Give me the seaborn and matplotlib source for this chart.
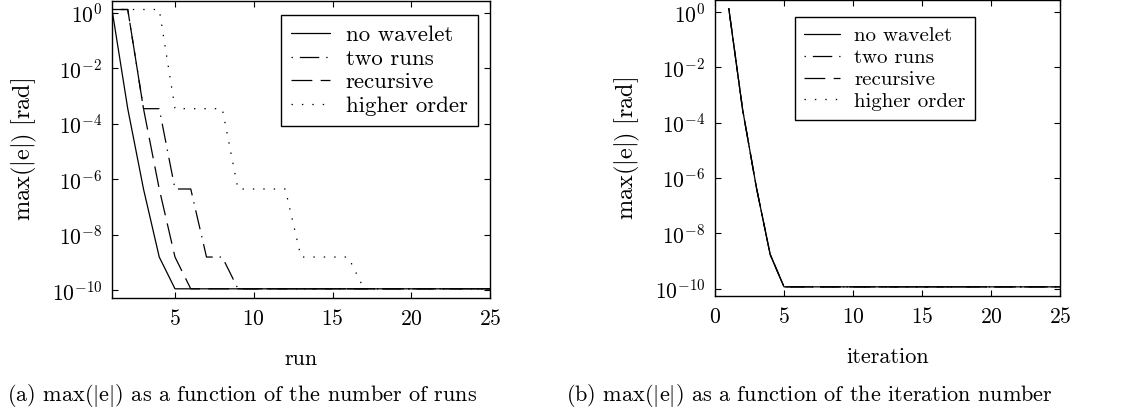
import numpy as np
import pandas as pd
import seaborn as sns
import matplotlib.pyplot as plt
from matplotlib.lines import Line2D
from matplotlib.ticker import FixedLocator, NullLocator, LogFormatterSciNotation

# ---- data -------------------------------------------------------------
runs = list(range(1, 26))
no_wavelet = [1.3, 3.5e-4, 4.5e-7, 1.6e-9] + [1.15e-10] * 21
two_runs = [1.3, 1.3, 3.5e-4, 3.5e-4, 4.5e-7, 4.5e-7, 1.6e-9, 1.6e-9] + [1.15e-10] * 17
recursive = [1.3, 1.3, 3.5e-4, 4.5e-7, 1.6e-9] + [1.15e-10] * 20
higher_order = [1.3] * 4 + [3.5e-4] * 4 + [4.5e-7] * 4 + [1.6e-9] * 4 + [1.15e-10] * 9

iterations = list(range(1, 26))
iter_no_wavelet = [1.35, 3.0e-4, 4.5e-7, 1.7e-9] + [1.15e-10] * 21
iter_two_runs = [1.35, 3.0e-4, 4.5e-7, 1.7e-9] + [1.15e-10] * 21
iter_recursive = [1.35, 3.0e-4, 4.5e-7, 1.7e-9] + [1.15e-10] * 21
iter_higher_order = [1.35, 3.0e-4, 4.5e-7, 1.7e-9] + [1.15e-10] * 21

methods = ["no wavelet", "two runs", "recursive", "higher order"]
y_ticks = [1e0, 1e-2, 1e-4, 1e-6, 1e-8, 1e-10]
x_ticks_runs = [5, 10, 15, 20, 25]
x_ticks_iter = [0, 5, 10, 15, 20, 25]

# ---- style ------------------------------------------------------------
sns.set_style("ticks")
plt.rcParams.update({
    "font.family": ["cmr10", "DejaVu Serif"],
    "mathtext.fontset": "cm",
    "axes.formatter.use_mathtext": True,
    "font.size": 15.5,
    "lines.scale_dashes": False,
    "axes.linewidth": 1.0,
    "axes.edgecolor": "black",
    "xtick.direction": "in",
    "ytick.direction": "in",
    "xtick.top": True,
    "ytick.right": True,
    "xtick.major.size": 4,
    "ytick.major.size": 4,
    "xtick.major.width": 0.8,
    "ytick.major.width": 0.8,
    "xtick.color": "black",
    "ytick.color": "black",
    "text.color": "black",
    "axes.labelcolor": "black",
})

dash_map = {
    "no wavelet": "",
    "two runs": (1, 5, 14, 5),
    "recursive": (15, 6),
    "higher order": (1, 6.5),
}


def long_frame(x, series, xname):
    rows = []
    for name, vals in zip(methods, series):
        for xi, v in zip(x, vals):
            rows.append({xname: xi, "err": v, "method": name})
    return pd.DataFrame(rows)


df_runs = long_frame(runs, [no_wavelet, two_runs, recursive, higher_order], "run")
df_iter = long_frame(iterations,
                     [iter_no_wavelet, iter_two_runs, iter_recursive, iter_higher_order],
                     "iteration")

W, H = 1134, 411
fig = plt.figure(figsize=(W / 100, H / 100), dpi=100)
ax_a = fig.add_axes([112 / W, 1 - 298 / H, 378 / W, 297 / H])
ax_b = fig.add_axes([715 / W, 1 - 296 / H, 345 / W, 295.5 / H])


def legend_handles():
    hs = []
    for m in methods:
        d = dash_map[m]
        ls = "-" if d == "" else (0, d)
        hs.append(Line2D([], [], color="k", lw=0.9, linestyle=ls))
    return hs


def draw(ax, df, xname, xlim, xticks, xlabel, legend_anchor, legend_size):
    sns.lineplot(data=df, x=xname, y="err", style="method", style_order=methods,
                 dashes=dash_map, color="k", lw=0.9, errorbar=None,
                 legend=False, ax=ax)
    ax.set_yscale("log")
    ax.set_xlim(*xlim)
    ax.set_ylim(10 ** -10.27, 10 ** 0.42)
    ax.xaxis.set_major_locator(FixedLocator(xticks))
    ax.yaxis.set_major_locator(FixedLocator(y_ticks))
    ax.yaxis.set_major_formatter(LogFormatterSciNotation())
    ax.yaxis.set_minor_locator(NullLocator())
    ax.xaxis.set_minor_locator(NullLocator())
    ax.tick_params(axis="x", pad=8)
    ax.tick_params(axis="y", pad=7)
    ax.set_xlabel(xlabel, labelpad=15, fontsize=16)
    ax.set_ylabel(r"$\mathrm{max(|e|)\ [rad]}$", labelpad=9, fontsize=17.5)
    for s in ax.spines.values():
        s.set_visible(True)
    leg = ax.legend(legend_handles(), methods, loc="upper right",
                    bbox_to_anchor=legend_anchor, fancybox=False, framealpha=1,
                    edgecolor="black", handlelength=1.7, handletextpad=0.7,
                    labelspacing=0.15, borderpad=0.45, borderaxespad=0,
                    fontsize=legend_size)
    leg.get_frame().set_linewidth(1.0)


draw(ax_a, df_runs, "run", (1, 25), x_ticks_runs, "run",
     ((478 - 112) / 378, 1 - 14 / 297), 16.5)
draw(ax_b, df_iter, "iteration", (0, 25), x_ticks_iter, "iteration",
     ((975 - 715) / 345, 1 - 17 / 295.5), 15)

fig.text(7 / W, 1 - 395 / H, r"(a) $\mathrm{max(|e|)}$ as a function of the number of runs",
         ha="left", va="center", fontsize=16)
fig.text(566 / W, 1 - 395 / H, r"(b) $\mathrm{max(|e|)}$ as a function of the iteration number",
         ha="left", va="center", fontsize=16)

fig.savefig("out.png", dpi=100)
